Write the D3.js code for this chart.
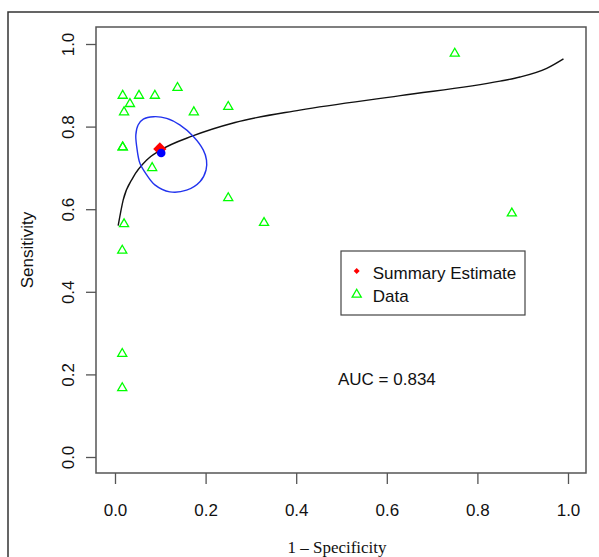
<!DOCTYPE html>
<html>
<head>
<meta charset="utf-8">
<script src="https://cdn.jsdelivr.net/npm/d3@7"></script>
<style>
  body { margin: 0; background: #fff; }
  svg { display: block; }
</style>
</head>
<body>
<svg id="chart" width="599" height="557"></svg>
<script>
// study data (1 - specificity, sensitivity)
const dataFpr = [0.017, 0.053, 0.088, 0.138, 0.033, 0.020, 0.174, 0.25, 0.017, 0.017,
  0.082, 0.25, 0.020, 0.329, 0.016, 0.016, 0.016, 0.75, 0.876];
const dataSens = [0.875, 0.875, 0.875, 0.894, 0.855, 0.835, 0.835, 0.848, 0.75, 0.75,
  0.70, 0.627, 0.564, 0.567, 0.50, 0.25, 0.167, 0.977, 0.59];

// summary estimate and mean point
const summary = { fpr: 0.099, sens: 0.746 };
const meanPoint = { fpr: 0.102, sens: 0.736 };

// SROC curve
const rocFpr = [0.007, 0.018, 0.04, 0.07, 0.099, 0.173, 0.265, 0.408, 0.63, 0.85, 0.894, 0.953, 0.99];
const rocSens = [0.56, 0.622, 0.677, 0.719, 0.742, 0.778, 0.810, 0.840, 0.875, 0.910, 0.920, 0.941, 0.964];

// confidence region
const ellFpr = [0.085, 0.114, 0.143, 0.173, 0.195, 0.202, 0.201, 0.188, 0.158, 0.121,
  0.088, 0.07, 0.055, 0.048, 0.046, 0.051, 0.0625];
const ellSens = [0.824, 0.82, 0.804, 0.776, 0.743, 0.719, 0.695, 0.667, 0.646, 0.642,
  0.659, 0.683, 0.711, 0.751, 0.780, 0.804, 0.818];

const ticks = [0, 0.2, 0.4, 0.6, 0.8, 1.0];
const legendLabels = ["Summary Estimate", "Data"];
const aucLabel = "AUC = 0.834";

const svg = d3.select("#chart");
const box = { left: 96, top: 27, right: 586, bottom: 473 };
const font = "'Liberation Sans', Arial, sans-serif";

const x = d3.scaleLinear().domain([0, 1]).range([115, 568]);
const y = d3.scaleLinear().domain([0, 1]).range([457, 44]);

// outer figure frame (runs off the right/bottom)
svg.append("path")
  .attr("d", "M8,557V12H599")
  .attr("fill", "none")
  .attr("stroke", "#333")
  .attr("stroke-width", 1.5);

// plot box
svg.append("rect")
  .attr("x", box.left)
  .attr("y", box.top)
  .attr("width", box.right - box.left)
  .attr("height", box.bottom - box.top)
  .attr("fill", "none")
  .attr("stroke", "#555")
  .attr("stroke-width", 1.5);

// X axis
const xAxis = svg.append("g")
  .attr("transform", `translate(0,${box.bottom})`)
  .call(d3.axisBottom(x).tickValues(ticks).tickFormat(d3.format(".1f")).tickSize(11));
xAxis.select(".domain").remove();
xAxis.selectAll("line").attr("stroke", "#555").attr("stroke-width", 1.3);
xAxis.selectAll("text")
  .attr("y", 43)
  .attr("dy", 0)
  .attr("fill", "#111")
  .style("font-family", font)
  .style("font-size", "17px");

// Y axis
const yAxis = svg.append("g")
  .attr("transform", `translate(${box.left},0)`)
  .call(d3.axisLeft(y).tickValues(ticks).tickFormat(d3.format(".1f")).tickSize(10));
yAxis.select(".domain").remove();
yAxis.selectAll("line").attr("stroke", "#555").attr("stroke-width", 1.3);
yAxis.selectAll("text")
  .attr("transform", "rotate(-90)")
  .attr("x", 0)
  .attr("y", -22)
  .attr("dy", 0)
  .attr("text-anchor", "middle")
  .attr("fill", "#111")
  .style("font-family", font)
  .style("font-size", "17px");

// axis titles
svg.append("text")
  .attr("x", 337)
  .attr("y", 553)
  .attr("text-anchor", "middle")
  .style("font-family", "'Liberation Serif', 'Times New Roman', serif")
  .style("font-size", "17px")
  .attr("fill", "#111")
  .text("1 – Specificity");

svg.append("text")
  .attr("transform", `translate(33,${(box.top + box.bottom) / 2}) rotate(-90)`)
  .attr("text-anchor", "middle")
  .style("font-family", font)
  .style("font-size", "17px")
  .attr("fill", "#111")
  .text("Sensitivity");

// SROC curve
const roc = rocFpr.map((d, i) => [d, rocSens[i]]);
svg.append("path")
  .datum(roc)
  .attr("fill", "none")
  .attr("stroke", "#111")
  .attr("stroke-width", 1.4)
  .attr("d", d3.line().x((d) => x(d[0])).y((d) => y(d[1])).curve(d3.curveMonotoneX));

// confidence region
const ell = ellFpr.map((d, i) => [d, ellSens[i]]);
svg.append("path")
  .datum(ell)
  .attr("fill", "none")
  .attr("stroke", "#2233ee")
  .attr("stroke-width", 1.4)
  .attr("d", d3.line().x((d) => x(d[0])).y((d) => y(d[1])).curve(d3.curveCatmullRomClosed.alpha(0.5)));

// data triangles
const tri = d3.symbol().type(d3.symbolTriangle).size(36);
svg.append("g")
  .selectAll("path")
  .data(dataFpr.map((d, i) => [d, dataSens[i]]))
  .join("path")
  .attr("transform", (d) => `translate(${x(d[0])},${y(d[1])})`)
  .attr("d", tri)
  .attr("fill", "none")
  .attr("stroke", "#00ff00")
  .attr("stroke-width", 1.3);

// summary estimate (diamond) and mean (dot)
svg.append("path")
  .attr("transform", `translate(${x(summary.fpr)},${y(summary.sens)}) rotate(45)`)
  .attr("d", d3.symbol().type(d3.symbolSquare).size(88)())
  .attr("fill", "#ff0000");

svg.append("circle")
  .attr("cx", x(meanPoint.fpr))
  .attr("cy", y(meanPoint.sens))
  .attr("r", 4.3)
  .attr("fill", "#0000ff");

// legend
const legend = svg.append("g");
legend.append("rect")
  .attr("x", 341)
  .attr("y", 251)
  .attr("width", 184)
  .attr("height", 64)
  .attr("fill", "#fff")
  .attr("stroke", "#444")
  .attr("stroke-width", 1.2);

legend.append("path")
  .attr("transform", "translate(356.7,271) rotate(45)")
  .attr("d", d3.symbol().type(d3.symbolSquare).size(18)())
  .attr("fill", "#ff0000");
legend.append("path")
  .attr("transform", "translate(356.7,294.5)")
  .attr("d", tri)
  .attr("fill", "none")
  .attr("stroke", "#00ff00")
  .attr("stroke-width", 1.3);

legend.selectAll("text")
  .data(legendLabels)
  .join("text")
  .attr("x", 372.7)
  .attr("y", (d, i) => 279 + i * 23)
  .style("font-family", font)
  .style("font-size", "17px")
  .attr("fill", "#111")
  .text((d) => d);

// AUC label
svg.append("text")
  .attr("x", 338)
  .attr("y", 385)
  .style("font-family", font)
  .style("font-size", "17px")
  .attr("fill", "#111")
  .text(aucLabel);
</script>
</body>
</html>
